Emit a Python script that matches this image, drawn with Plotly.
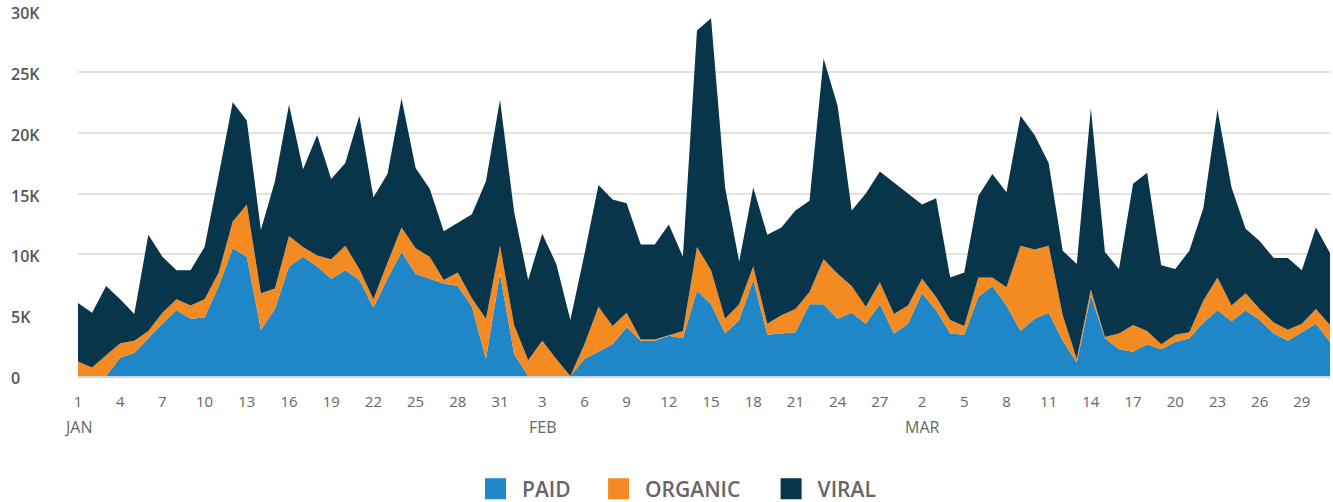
import pandas as pd
import plotly.graph_objects as go

start_date = "2023-01-01"
n_days = 90

paid = [0, 0, 0, 1500, 1900, 3100, 4300, 5400, 4700, 4800,
        7400, 10500, 9800, 3800, 5500, 9000, 9800, 9000, 8000, 8700,
        7900, 5600, 8000, 10200, 8400, 8000, 7600, 7400, 5700, 1400,
        8400, 1800, 0, 0, 0, 0, 1400, 2000, 2600, 4000,
        2900, 2900, 3300, 3100, 7000, 5900, 3500, 4600, 7900, 3400,
        3500, 3600, 5900, 5900, 4700, 5200, 4300, 5900, 3500, 4300,
        6800, 5400, 3500, 3400, 6500, 7400, 5800, 3700, 4700, 5200,
        2900, 1100, 6600, 3100, 2200, 2000, 2600, 2200, 2800, 3100,
        4400, 5400, 4500, 5400, 4600, 3500, 2900, 3600, 4300, 2800]

organic = [1200, 700, 1700, 1200, 1000, 600, 900, 900, 1100, 1500,
           1100, 2200, 4300, 3000, 1700, 2500, 800, 900, 1600, 2000,
           900, 700, 1300, 2000, 2100, 1800, 300, 1100, 700, 3300,
           2300, 2400, 1300, 2900, 1400, 0, 1200, 3700, 1500, 1200,
           100, 100, 50, 600, 3600, 2800, 1200, 1300, 1100, 900,
           1500, 1900, 1000, 3700, 3700, 2200, 1400, 1800, 1600, 1500,
           1200, 1100, 1100, 700, 1600, 700, 1500, 7000, 5700, 5500,
           2100, 300, 500, 100, 1300, 2200, 1100, 400, 600, 500,
           1800, 2700, 1300, 1400, 900, 900, 900, 700, 1200, 1400]

viral = [4800, 4500, 5700, 3600, 2200, 7900, 4600, 2400, 2900, 4300,
         8000, 9800, 6900, 5200, 8800, 10800, 6400, 9900, 6600, 6800,
         12600, 8400, 7300, 10600, 6600, 5600, 4000, 4100, 6900, 11300,
         12000, 9300, 6600, 8800, 7800, 4600, 7400, 10000, 10400, 9000,
         7800, 7800, 9100, 6100, 17800, 20700, 10800, 3500, 6500, 7300,
         7200, 8100, 7500, 16500, 13800, 6200, 9300, 9100, 10800, 9200,
         6100, 8100, 3500, 4400, 6700, 8500, 7800, 10700, 9400, 6800,
         5300, 7800, 14900, 7000, 5300, 11600, 13000, 6500, 5400, 6700,
         7600, 13800, 9700, 5300, 5600, 5300, 5900, 4400, 6700, 5900]

series_names = ["PAID", "ORGANIC", "VIRAL"]
series_colors = ["#1f87c7", "#f38a22", "#08354a"]

x_tick_labels = ["1", "4", "7", "10", "13", "16", "19", "22", "25", "28", "31",
                 "3", "6", "9", "12", "15", "18", "21", "24", "27",
                 "2", "5", "8", "11", "14", "17", "20", "23", "26", "29"]
month_labels = ["JAN", "FEB", "MAR"]
month_label_dates = ["2023-01-01", "2023-02-03", "2023-03-02"]

y_tick_values = [0, 5000, 10000, 15000, 20000, 25000, 30000]
y_tick_labels = ["0", "5K", "10K", "15K", "20K", "25K", "30K"]

dates = pd.date_range(start_date, periods=n_days, freq="D")
tick_dates = pd.date_range(start_date, periods=len(x_tick_labels), freq="3D")

fig = go.Figure()
for name, vals, col in zip(series_names, [paid, organic, viral], series_colors):
    fig.add_trace(go.Scatter(
        x=dates, y=vals, name=name, mode="lines",
        stackgroup="one", line=dict(width=0, color=col),
        fillcolor=col, showlegend=False, hoverinfo="x+y+name"))

legend_x = [0.3123, 0.4106, 0.5484]
legend_ids = ["legend", "legend2", "legend3"]
for name, col, lid in zip(series_names, series_colors, legend_ids):
    fig.add_trace(go.Scatter(
        x=[None], y=[None], name=name, mode="markers",
        marker=dict(symbol="square", size=16, color=col,
                    line=dict(width=5, color=col)),
        legend=lid, showlegend=True))

leg_common = dict(orientation="h", yanchor="middle", y=-0.31, xanchor="left",
                  font=dict(family="Open Sans", size=21, color="#666666", weight=600),
                  bgcolor="rgba(0,0,0,0)", itemwidth=43, borderwidth=0,
                  tracegroupgap=0)
fig.update_layout(
    legend=dict(x=legend_x[0], **leg_common),
    legend2=dict(x=legend_x[1], **leg_common),
    legend3=dict(x=legend_x[2], **leg_common),
)

fig.update_xaxes(
    range=[dates[0], dates[-1]],
    tickvals=tick_dates, ticktext=x_tick_labels,
    showgrid=False, zeroline=False,
    showline=True, linecolor="#c9d5dd", linewidth=2,
    ticks="", ticklabelstandoff=11,
    tickfont=dict(family="Open Sans", size=15, color="#666666"),
)
fig.update_yaxes(
    range=[0, 30000], tickvals=y_tick_values, showticklabels=False,
    showgrid=True, gridcolor="#e2e2e2", gridwidth=2, zeroline=False,
)

for val, lab in zip(y_tick_values, y_tick_labels):
    fig.add_annotation(
        x=-0.0553, xref="paper", y=val, yref="y", text=lab,
        showarrow=False, xanchor="left", yanchor="middle", yshift=-2,
        font=dict(family="Open Sans", size=16, color="#555555", weight=600))

for d, lab in zip(month_label_dates, month_labels):
    fig.add_annotation(
        x=d, xref="x", y=-0.14, yref="paper", text=lab,
        showarrow=False, xanchor="center", yanchor="middle",
        font=dict(family="Open Sans", size=16, color="#666666", weight=500))

fig.update_layout(
    width=1333, height=502,
    margin=dict(l=78, r=3, t=11, b=126, autoexpand=False),
    plot_bgcolor="white", paper_bgcolor="white",
    font=dict(family="Open Sans"),
)

fig.write_html("out.html",
               config={"displayModeBar": False},
               post_script="document.body.style.margin='0';document.body.style.overflow='hidden';")
